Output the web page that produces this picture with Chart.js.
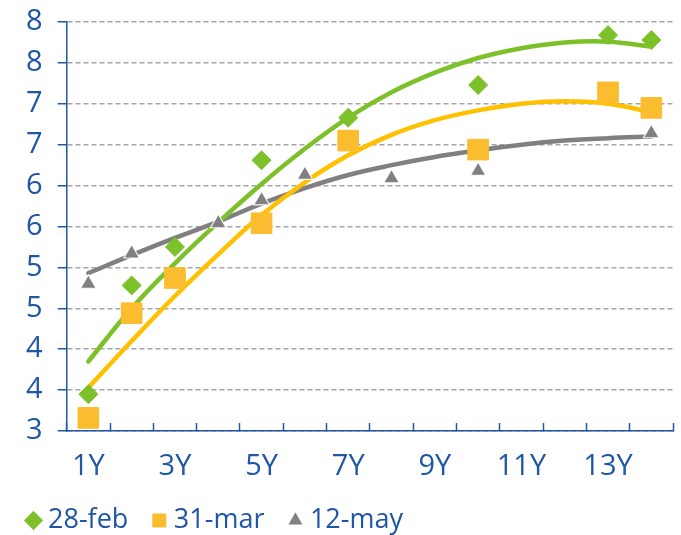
<!DOCTYPE html>
<html>
<head>
<meta charset="utf-8">
<script src="https://cdn.jsdelivr.net/npm/chart.js@4/dist/chart.umd.min.js"></script>
<style>
  html, body { margin: 0; padding: 0; background: #ffffff; }
  #wrap { width: 681px; height: 535px; position: relative; }
</style>
</head>
<body>
<div id="wrap"><canvas id="curve"></canvas></div>
<script>
// Tenors on the x axis; only every other one carries a label
const categories = ['1Y','2Y','3Y','4Y','5Y','6Y','7Y','8Y','9Y','10Y','11Y','12Y','13Y','14Y'];
const labeledTicks = ['1Y','3Y','5Y','7Y','9Y','11Y','13Y'];

// Observed points per date (null where no quote)
const feb28 = [3.45, 4.78, 5.25, null, 6.31, null, 6.83, null, null, 7.23, null, null, 7.84, 7.78];
const mar31 = [3.16, 4.44, 4.87, null, 5.54, null, 6.55, null, null, 6.44, null, null, 7.14, 6.95];
const may12 = [4.80, 5.17, null, 5.54, 5.82, 6.13, null, 6.09, null, 6.18, null, null, null, 6.64];

// Smoothed trend curves per date
const feb28Trend = [3.85, 4.50, 5.05, 5.55, 6.02, 6.45, 6.83, 7.14, 7.38, 7.56, 7.68, 7.75, 7.76, 7.70];
const mar31Trend = [3.53, 4.10, 4.65, 5.16, 5.64, 6.04, 6.37, 6.62, 6.80, 6.92, 7.00, 7.03, 7.00, 6.90];
const may12Trend = [4.93, 5.15, 5.36, 5.56, 5.78, 5.97, 6.13, 6.25, 6.35, 6.43, 6.50, 6.55, 6.58, 6.60];

const seriesNames = ['28-feb', '31-mar', '12-may'];

const BLUE = '#1f56a6';
const GREEN = '#7dc12a';
const ORANGE_MARK = '#fbbd30';
const ORANGE_LINE = '#ffc000';
const GREY = '#808080';
const FONT = '"Open Sans", "Noto Sans", sans-serif';

function draw() {
  const ctx = document.getElementById('curve');
  new Chart(ctx, {
    type: 'line',
    data: {
      labels: categories,
      datasets: [
        {
          label: seriesNames[0], data: feb28, showLine: false, order: 1,
          pointStyle: 'rectRot', pointRadius: 9.5,
          backgroundColor: GREEN, borderColor: GREEN, borderWidth: 1
        },
        {
          label: seriesNames[1], data: mar31, showLine: false, order: 1,
          pointStyle: 'rect', pointRadius: 14.6,
          backgroundColor: ORANGE_MARK, borderColor: ORANGE_MARK, borderWidth: 1
        },
        {
          label: seriesNames[2], data: may12, showLine: false, order: 1,
          pointStyle: 'triangle', pointRadius: 9,
          backgroundColor: GREY, borderColor: 'rgba(255,255,255,0.9)', borderWidth: 1.2
        },
        {
          label: seriesNames[0] + ' trend', data: feb28Trend, order: 2,
          borderColor: GREEN, borderWidth: 4.5, pointRadius: 0, tension: 0.4,
          borderCapStyle: 'round', fill: false
        },
        {
          label: seriesNames[1] + ' trend', data: mar31Trend, order: 2,
          borderColor: ORANGE_LINE, borderWidth: 4.5, pointRadius: 0, tension: 0.4,
          borderCapStyle: 'round', fill: false
        },
        {
          label: seriesNames[2] + ' trend', data: may12Trend, order: 2,
          borderColor: GREY, borderWidth: 4.5, pointRadius: 0, tension: 0.4,
          borderCapStyle: 'round', fill: false
        }
      ]
    },
    options: {
      animation: false,
      responsive: true,
      maintainAspectRatio: false,
      layout: { autoPadding: false, padding: { left: 2.5, right: 8, top: 22, bottom: -9 } },
      plugins: {
        tooltip: { enabled: false },
        legend: {
          position: 'bottom',
          align: 'start',
          labels: {
            usePointStyle: true,
            boxWidth: 2,
            boxHeight: 13,
            padding: 30,
            color: BLUE,
            font: { family: FONT, size: 27 },
            filter: (item) => item.datasetIndex < 3
          }
        }
      },
      scales: {
        x: {
          offset: true,
          afterFit: (scale) => { scale.height = 46; },
          grid: {
            display: true,
            drawOnChartArea: false,
            offset: true,
            tickLength: -8,
            tickColor: BLUE,
            tickWidth: 1.5
          },
          border: { color: BLUE, width: 1.5 },
          ticks: {
            autoSkip: false,
            maxRotation: 0,
            padding: 26,
            color: BLUE,
            font: { family: FONT, size: 29 },
            callback: (value, index) => labeledTicks.includes(categories[index]) ? categories[index] : ''
          }
        },
        y: {
          min: 3,
          max: 8,
          afterFit: (scale) => {
            scale.width = 64.2;
            scale.paddingTop = 0;
            scale.paddingBottom = 0;
          },
          grid: {
            color: '#a6a6a6',
            lineWidth: 1.5,
            tickLength: 9,
            tickColor: BLUE,
            tickWidth: 1.5,
            tickBorderDash: []
          },
          border: { color: BLUE, width: 1.5, dash: [5, 3] },
          ticks: {
            stepSize: 0.5,
            padding: 15,
            color: BLUE,
            font: { family: FONT, size: 29 },
            callback: (value) => String(Math.round(value))
          }
        }
      }
    }
  });
}

if (document.fonts && document.fonts.load) {
  Promise.all([
    document.fonts.load('29px "Open Sans"'),
    document.fonts.load('27px "Open Sans"')
  ]).then(draw, draw);
} else {
  draw();
}
</script>
</body>
</html>
